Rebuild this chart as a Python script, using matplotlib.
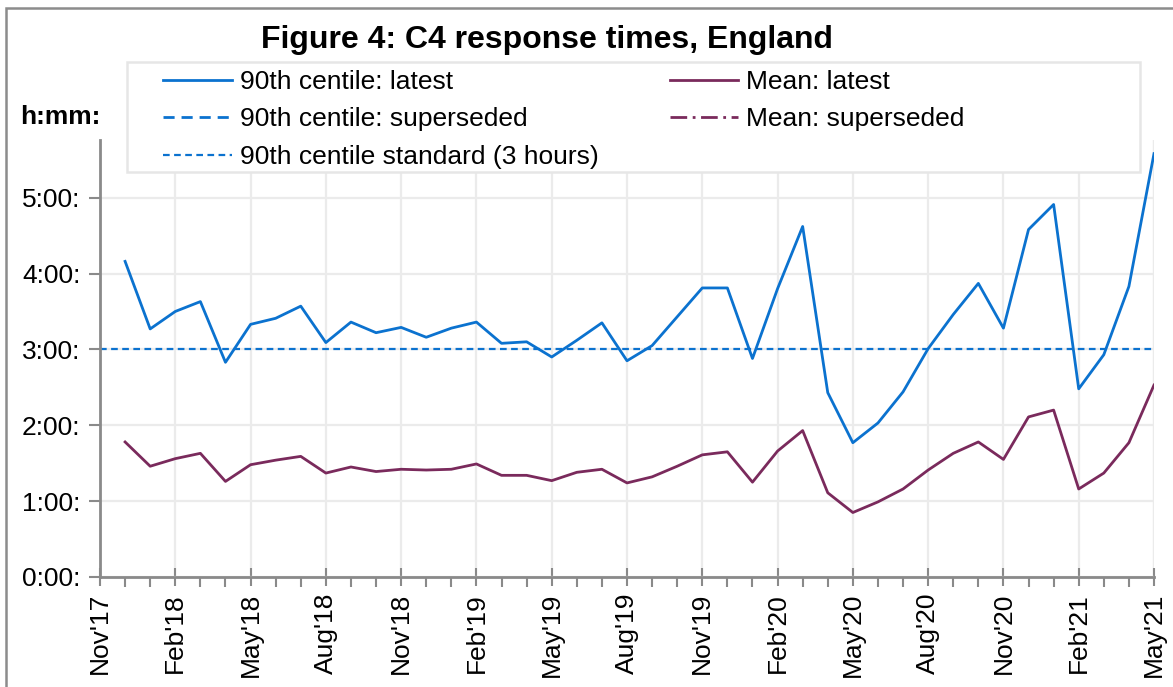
import matplotlib
matplotlib.use("Agg")
import matplotlib.pyplot as plt
from matplotlib.lines import Line2D
from matplotlib.patches import Rectangle
from matplotlib.ticker import FixedLocator, FuncFormatter

plt.rcParams['font.family'] = ['Liberation Sans', 'DejaVu Sans']

# Monthly series, Dec 2017 to May 2021, in hours
months = ["Dec'17", "Jan'18", "Feb'18", "Mar'18", "Apr'18", "May'18", "Jun'18", "Jul'18",
          "Aug'18", "Sep'18", "Oct'18", "Nov'18", "Dec'18", "Jan'19", "Feb'19", "Mar'19",
          "Apr'19", "May'19", "Jun'19", "Jul'19", "Aug'19", "Sep'19", "Oct'19", "Nov'19",
          "Dec'19", "Jan'20", "Feb'20", "Mar'20", "Apr'20", "May'20", "Jun'20", "Jul'20",
          "Aug'20", "Sep'20", "Oct'20", "Nov'20", "Dec'20", "Jan'21", "Feb'21", "Mar'21",
          "Apr'21", "May'21"]
centile90_latest = [4.16, 3.27, 3.50, 3.63, 2.83, 3.33, 3.41, 3.57, 3.09, 3.36, 3.22, 3.29,
                    3.16, 3.28, 3.36, 3.08, 3.10, 2.90, 3.12, 3.35, 2.85, 3.05, 3.43, 3.81,
                    3.81, 2.88, 3.80, 4.62, 2.43, 1.77, 2.03, 2.44, 3.01, 3.46, 3.87, 3.28,
                    4.58, 4.91, 2.48, 2.93, 3.83, 5.58]
mean_latest = [1.78, 1.46, 1.56, 1.63, 1.26, 1.48, 1.54, 1.59, 1.37, 1.45, 1.39, 1.42,
               1.41, 1.42, 1.49, 1.34, 1.34, 1.27, 1.38, 1.42, 1.24, 1.32, 1.46, 1.61,
               1.65, 1.25, 1.66, 1.93, 1.11, 0.85, 0.99, 1.16, 1.41, 1.63, 1.78, 1.55,
               2.11, 2.20, 1.16, 1.37, 1.77, 2.53]
centile90_superseded = []
mean_superseded = []
standard_hours = 3.0

tick_labels = ["Nov'17", "Feb'18", "May'18", "Aug'18", "Nov'18", "Feb'19", "May'19",
               "Aug'19", "Nov'19", "Feb'20", "May'20", "Aug'20", "Nov'20", "Feb'21", "May'21"]
y_ticks = [0, 1, 2, 3, 4, 5]

BLUE = '#0B72CF'
PLUM = '#7A2A5C'
AXIS = '#8A8A8A'
GRID = '#EBEBEB'
FS = 19

W, H = 1173, 687
fig = plt.figure(figsize=(W / 100, H / 100), dpi=100)


def fx(px):
    return px / W


def fy(py):
    return 1 - py / H


ax = fig.add_axes([fx(100), fy(577), fx(1154) - fx(100), fy(140) - fy(577)])

x = list(range(1, len(months) + 1))
ax.plot(x, centile90_latest, color=BLUE, lw=2.0, solid_joinstyle='round', zorder=3)
ax.plot(x, mean_latest, color=PLUM, lw=2.0, solid_joinstyle='round', zorder=3)
ax.plot(x[:len(centile90_superseded)], centile90_superseded, color=BLUE, lw=2.0, ls=(0, (4, 2.5)))
ax.plot(x[:len(mean_superseded)], mean_superseded, color=PLUM, lw=2.0, ls=(0, (6, 2, 1, 2)))
ax.axhline(standard_hours, color=BLUE, lw=1.6, ls=(0, (3, 2)), zorder=2)

ax.set_xlim(0, len(months))
ax.set_ylim(0, 5.76)

major_x = [3 * i for i in range(len(tick_labels))]
ax.xaxis.set_major_locator(FixedLocator(major_x))
ax.xaxis.set_minor_locator(FixedLocator([m for m in range(0, len(months) + 1) if m % 3]))
ax.set_xticklabels(tick_labels, rotation=90, fontsize=FS)
ax.tick_params(axis='x', which='major', direction='inout', length=13, width=1.5,
               color=AXIS, pad=5)
ax.tick_params(axis='x', which='minor', direction='out', length=7, width=1.5, color=AXIS)

ax.yaxis.set_major_locator(FixedLocator(y_ticks))
ax.yaxis.set_major_formatter(FuncFormatter(lambda v, p: f"{int(round(v))}:00:"))
ax.tick_params(axis='y', direction='out', length=8, width=1.5, color=AXIS, pad=6,
               labelsize=FS)

for s in ['top', 'right']:
    ax.spines[s].set_visible(False)
for s in ['left', 'bottom']:
    ax.spines[s].set_color(AXIS)
    ax.spines[s].set_linewidth(2)

ax.grid(True, which='major', color=GRID, lw=1.6, zorder=0)
ax.axvline(len(months), color=GRID, lw=1.6, zorder=0)
ax.set_axisbelow(True)

# Legend panel
panel = Rectangle((fx(127), fy(172)), fx(1140) - fx(127), fy(62) - fy(172),
                  transform=fig.transFigure, facecolor='white', edgecolor='#E6E6E6',
                  lw=1.8, zorder=5)
fig.patches.append(panel)

handles = [
    Line2D([], [], color=BLUE, lw=2.0),
    Line2D([], [], color=BLUE, lw=2.0, ls=(0, (4, 2.5))),
    Line2D([], [], color=BLUE, lw=1.6, ls=(0, (3, 2))),
    Line2D([], [], color=PLUM, lw=2.0),
    Line2D([], [], color=PLUM, lw=2.0, ls=(0, (6, 2, 1, 2))),
]
labels = ["90th centile: latest", "90th centile: superseded", "90th centile standard (3 hours)",
          "Mean: latest", "Mean: superseded"]
leg = fig.legend(handles, labels, ncol=2, loc='upper left',
                 bbox_to_anchor=(fx(163), fy(70)), frameon=False, fontsize=FS,
                 handlelength=2.6, handletextpad=0.3, labelspacing=0.51,
                 columnspacing=2.7, borderpad=0, borderaxespad=0)
leg.set_zorder(6)

fig.text(fx(547), fy(40), "Figure 4: C4 response times, England", ha='center', va='center',
         fontsize=23, fontweight='bold')
fig.text(fx(20), fy(117), "h:mm:", ha='left', va='center', fontsize=FS, fontweight='bold')

# Outer chart frame
frame = Rectangle((fx(6), fy(720)), fx(1200) - fx(6), fy(8) - fy(720),
                  transform=fig.transFigure, facecolor='none', edgecolor='#8C8C8C',
                  lw=1.8, zorder=10)
fig.patches.append(frame)

fig.savefig('out.png', dpi=100)
